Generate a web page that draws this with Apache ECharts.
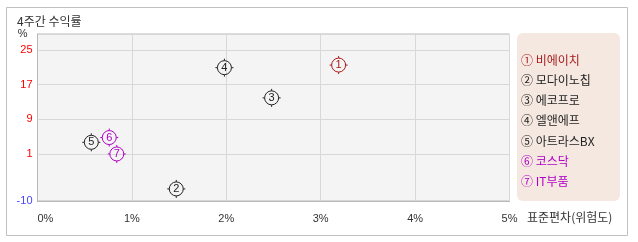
<!DOCTYPE html>
<html><head><meta charset="utf-8">
<script src="https://cdn.jsdelivr.net/npm/echarts@6/dist/echarts.min.js"></script>
<style>html,body{margin:0;padding:0;background:#fff}#c{width:638px;height:242px}</style>
</head><body><div id="c"></div>
<script>
const names = ['① 비에이치','② 모다이노칩','③ 에코프로','④ 엘앤에프','⑤ 아트라스BX','⑥ 코스닥','⑦ IT부품'];
const markerLabels = ['1','2','3','4','5','6','7'];
const riskX = [3.19, 1.47, 2.48, 1.98, 0.57, 0.76, 0.84];
const returnY = [21.5, -7.2, 13.9, 20.9, 3.6, 4.7, 0.9];
const colors = ['#a81c1c','#222222','#222222','#222222','#222222','#b000c4','#b000c4'];
const yTicks = [-10, 1, 9, 17, 25];
const xTicks = [0, 1, 2, 3, 4, 5];
const titleText = '4주간 수익률';
const xName = '표준편차(위험도)';
const yName = '%';

const symbolPath = 'path://M17,10 A7,7 0 1,1 3,10 A7,7 0 1,1 17,10 Z M10,1 L10,3 M10,17 L10,19 M1,10 L3,10 M17,10 L19,10';
const font = '"Noto Sans CJK KR", "Liberation Sans", sans-serif';
const xMin = xTicks[0], xMax = xTicks[xTicks.length - 1];
const G = { left: 37.5, top: 34, right: 128.5, bottom: 41 };

const series = [];
// horizontal grid lines at the y tick values, placed through the axes' scales
series.push({
  type: 'custom', name: 'hgrid', silent: true, z: 3, zlevel: 0, clip: false,
  data: yTicks.slice(1).map(v => [xMin, v]),
  encode: { x: 0, y: 1 },
  renderItem: function (params, api) {
    const p0 = api.coord([xMin, api.value(1)]);
    const p1 = api.coord([xMax, api.value(1)]);
    return { type: 'rect', z2: -5, shape: { x: p0[0] + 1, y: Math.round(p0[1]), width: p1[0] - p0[0] - 1, height: 1 }, style: { fill: '#d8d8d8' } };
  },
  tooltip: { show: false }
});
names.forEach((n, i) => series.push({
  name: n, type: 'scatter',
  data: [[riskX[i], returnY[i]]],
  symbol: symbolPath, symbolSize: 18,
  itemStyle: { color: 'rgba(0,0,0,0)', borderColor: colors[i], borderWidth: 1, opacity: 1 },
  label: { show: true, position: 'inside', formatter: markerLabels[i], color: colors[i], fontSize: 11, fontFamily: 'Liberation Sans' },
  emphasis: { disabled: true },
  z: 4
}));

const chart = echarts.init(document.getElementById('c'));
chart.setOption({
  animation: false,
  backgroundColor: '#fff',
  textStyle: { fontFamily: font },
  graphic: [
    { type: 'rect', z: -10, silent: true, shape: { x: 6.5, y: 7.5, width: 621, height: 228 }, style: { fill: 'none', stroke: '#c0c0c0', lineWidth: 1 } },
    { type: 'rect', z: -10, silent: true, shape: { x: G.left, y: G.top, width: 638 - G.left - G.right, height: 242 - G.top - G.bottom }, style: { fill: '#f4f4f4', stroke: '#b8b8b8', lineWidth: 1 } },
    { type: 'rect', z: -10, silent: true, shape: { x: 517, y: 33, width: 103, height: 168, r: 6 }, style: { fill: '#f5e8e1' } },
    { type: 'text', left: 17, top: 15, style: { text: titleText, font: '12px ' + font, fill: '#333' } },
    { type: 'text', left: 527, top: 211, style: { text: xName, font: '12px ' + font, fill: '#333' } }
  ],
  legend: {
    orient: 'vertical', left: 511, top: 48,
    icon: 'none', itemWidth: 0, itemHeight: 14, itemGap: 7.3,
    selectedMode: false,
    data: names.map((n, i) => ({ name: n, textStyle: { color: colors[i], fontSize: 12, fontFamily: font } }))
  },
  grid: { left: G.left, top: G.top, right: G.right, bottom: G.bottom, show: false },
  xAxis: {
    type: 'value', min: xMin, max: xMax, interval: 1,
    axisLine: { show: true, onZero: false, lineStyle: { color: '#b8b8b8' } },
    axisTick: { show: false },
    splitLine: { show: true, lineStyle: { color: '#d8d8d8' } },
    axisLabel: { formatter: '{value}%', color: '#333', fontSize: 11, fontFamily: 'Liberation Sans', margin: 12, alignMinLabel: 'left' }
  },
  yAxis: {
    type: 'value', min: yTicks[0], max: 28.7,
    name: yName, nameLocation: 'end', nameGap: 0,
    nameTextStyle: { color: '#333', fontSize: 11, fontFamily: 'Liberation Sans', align: 'right', verticalAlign: 'middle', padding: [0, 10, 0, 0] },
    axisLine: { show: true, onZero: false, lineStyle: { color: '#b8b8b8' } },
    axisTick: { show: false },
    splitLine: { show: false },
    axisLabel: { customValues: yTicks, fontSize: 11, fontFamily: 'Liberation Sans', margin: 5,
      color: v => (v < 0 ? '#4646ff' : '#ff0000') }
  },
  series: series
});
</script></body></html>
